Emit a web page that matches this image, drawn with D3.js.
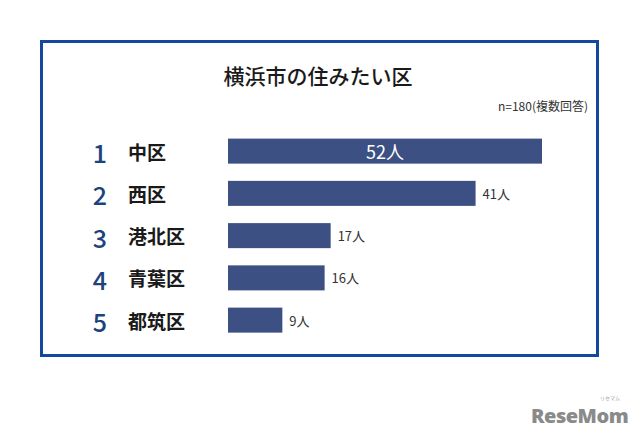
<!DOCTYPE html>
<html><head><meta charset="utf-8">
<script src="https://cdn.jsdelivr.net/npm/d3@7"></script>
<style>html,body{margin:0;padding:0;background:#fff;}svg{display:block;}</style>
</head><body>
<script>
const ranks = ["1","2","3","4","5"];
const districts = ["中区","西区","港北区","青葉区","都筑区"];
const values = [52, 41, 17, 16, 9];
const valueLabels = ["52人","41人","17人","16人","9人"];
const title = "横浜市の住みたい区";
const note = "n=180(複数回答)";

const W = 640, H = 439;
const font = "'Noto Sans CJK JP', 'Noto Sans', sans-serif";
const svg = d3.select("body").append("svg").attr("width", W).attr("height", H);
svg.append("rect").attr("width", W).attr("height", H).attr("fill", "#fff");

// frame
svg.append("rect").attr("x", 41.5).attr("y", 41.5).attr("width", 556).attr("height", 314)
  .attr("fill", "#fff").attr("stroke", "#12499b").attr("stroke-width", 3);

svg.append("text").attr("x", 318).attr("y", 75).attr("text-anchor", "middle")
  .attr("dominant-baseline", "central").attr("font-family", font).attr("font-size", 21)
  .attr("font-weight", 500).attr("fill", "#1a1a1a").text(title);

svg.append("text").attr("x", 588).attr("y", 105).attr("text-anchor", "end")
  .attr("dominant-baseline", "central").attr("font-family", font).attr("font-size", 12)
  .attr("fill", "#333").text(note);

const x = d3.scaleLinear().domain([0, 52]).range([228, 542]);
const y = d3.scaleBand().domain(districts).range([130, 341.25]).paddingInner(0.408).paddingOuter(0.204);

const g = svg.append("g");
const rows = g.selectAll("g.row").data(districts.map((d, i) => ({d, i, v: values[i], r: ranks[i], l: valueLabels[i]})))
  .enter().append("g").attr("class", "row");

rows.append("rect").attr("x", x(0)).attr("y", d => y(d.d)).attr("width", d => x(d.v) - x(0))
  .attr("height", y.bandwidth()).attr("fill", "#3c5084");

rows.append("text").attr("x", 100).attr("y", d => y(d.d) + y.bandwidth() / 2 + 1)
  .attr("text-anchor", "middle").attr("dominant-baseline", "central").attr("font-family", font)
  .attr("font-size", 25).attr("font-weight", 500).attr("fill", "#1c437e").text(d => d.r);

rows.append("text").attr("x", 128).attr("y", d => y(d.d) + y.bandwidth() / 2)
  .attr("dominant-baseline", "central").attr("font-family", font)
  .attr("font-size", 19).attr("font-weight", 700).attr("fill", "#1a1a1a").text(d => d.d);

rows.append("text")
  .attr("x", d => d.i === 0 ? (x(0) + x(d.v)) / 2 : x(d.v) + 7)
  .attr("y", d => y(d.d) + y.bandwidth() / 2)
  .attr("text-anchor", d => d.i === 0 ? "middle" : "start")
  .attr("dominant-baseline", "central").attr("font-family", font)
  .attr("font-size", d => d.i === 0 ? 18 : 13)
  .attr("fill", d => d.i === 0 ? "#fff" : "#333").text(d => d.l);

// watermark
svg.append("text").attr("x", 531).attr("y", 423).attr("font-family", "'Open Sans', sans-serif")
  .attr("font-size", 20).attr("font-weight", 800).attr("fill", "#8a8a8a").attr("letter-spacing", -0.5).text("ReseMom");
svg.append("text").attr("x", 610).attr("y", 400).attr("text-anchor", "middle").attr("font-family", font)
  .attr("font-size", 5).attr("fill", "#999").text("リセマム");
</script>
</body></html>
